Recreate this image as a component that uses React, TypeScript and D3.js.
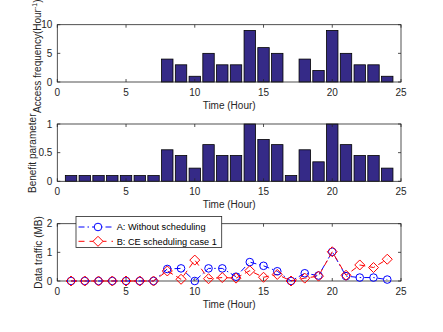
import * as d3 from 'd3'

const hours = d3.range(1, 25)
const accessFreq = [0, 0, 0, 0, 0, 0, 0, 4, 3, 1, 5, 3, 3, 9, 6, 5, 0, 4, 2, 9, 5, 3, 3, 1]
const benefit = [0.1, 0.1, 0.1, 0.1, 0.1, 0.1, 0.1, 0.55, 0.45, 0.23, 0.64, 0.45, 0.45, 1, 0.73, 0.64, 0.1, 0.55, 0.34, 1, 0.64, 0.45, 0.45, 0.23]
const trafficA = [0, 0, 0, 0, 0, 0, 0, 0.42, 0.44, 0, 0.44, 0.44, 0.15, 0.66, 0.53, 0.34, 0, 0.27, 0.19, 1.02, 0.17, 0.12, 0.12, 0.05]
const trafficB = [0, 0, 0, 0, 0, 0, 0, 0.35, 0.06, 0.73, 0.08, 0.12, 0.1, 0.36, 0.13, 0.23, 0, 0.1, 0.17, 1.02, 0.2, 0.56, 0.47, 0.76]
const xTicks = [0, 5, 10, 15, 20, 25]

const font = 'Liberation Sans, Arial, sans-serif'
const barColor = '#352a87'

const x = d3.scaleLinear().domain([0, 25]).range([57.3, 401])

function Axes({ y, yTicks, fmt }: { y: d3.ScaleLinear<number, number>; yTicks: number[]; fmt: (v: number) => string }) {
  const [y0, y1] = y.range()
  const [x0, x1] = x.range()
  const tl = 3
  return (
    <g fontFamily={font} fontSize={10} fill="#262626">
      <rect x={x0} y={y1} width={x1 - x0} height={y0 - y1} fill="none" stroke="#262626" strokeWidth={0.8} />
      {xTicks.map(t => (
        <g key={'x' + t}>
          <line x1={x(t)} x2={x(t)} y1={y0} y2={y0 - tl} stroke="#262626" strokeWidth={0.8} />
          <line x1={x(t)} x2={x(t)} y1={y1} y2={y1 + tl} stroke="#262626" strokeWidth={0.8} />
          <text x={x(t)} y={y0 + 14} textAnchor="middle">{t}</text>
        </g>
      ))}
      {yTicks.map(t => (
        <g key={'y' + t}>
          <line x1={x0} x2={x0 + tl} y1={y(t)} y2={y(t)} stroke="#262626" strokeWidth={0.8} />
          <line x1={x1} x2={x1 - tl} y1={y(t)} y2={y(t)} stroke="#262626" strokeWidth={0.8} />
          <text x={x0 - 5} y={y(t) + 3.5} textAnchor="end">{fmt(t)}</text>
        </g>
      ))}
      <text x={(x0 + x1) / 2} y={y0 + 27} textAnchor="middle">Time (Hour)</text>
    </g>
  )
}

function Bars({ y, values }: { y: d3.ScaleLinear<number, number>; values: number[] }) {
  const w = x(0.83) - x(0)
  return (
    <g>
      {values.map((v, i) => v > 0 && (
        <rect key={i} x={x(hours[i]) - w / 2} y={y(v)} width={w} height={y(0) - y(v)}
          fill={barColor} stroke="#000" strokeWidth={0.8} />
      ))}
    </g>
  )
}

function Diamond({ cx, cy, r, color, fill = 'none' }: { cx: number; cy: number; r: number; color: string; fill?: string }) {
  return <path d={`M${cx},${cy - r}L${cx + r},${cy}L${cx},${cy + r}L${cx - r},${cy}Z`} fill={fill} stroke={color} strokeWidth={1} />
}

export default function App() {
  const yTop = d3.scaleLinear().domain([0, 10]).range([82, 24.7])
  const yMid = d3.scaleLinear().domain([0, 1]).range([181.3, 124])
  const yBot = d3.scaleLinear().domain([0, 2]).range([281, 223.7])

  const line = d3.line<number>().x((_, i) => x(hours[i])).y(d => yBot(d))
  const blue = '#0000ff'
  const red = '#ff0000'

  return (
    <svg width={443} height={332} style={{ position: 'absolute', left: 0, top: 0, background: '#fff' }}>
      {/* top panel */}
      <Bars y={yTop} values={accessFreq} />
      <Axes y={yTop} yTicks={[0, 5, 10]} fmt={d => String(d)} />
      <text transform="translate(41,113) rotate(-90)" fontFamily={font} fontSize={10} fill="#262626">
        Access frequency(Hour<tspan fontSize={7} dy={-4}>-1</tspan><tspan dy={4}>)</tspan>
      </text>

      {/* middle panel */}
      <Bars y={yMid} values={benefit} />
      <Axes y={yMid} yTicks={[0, 0.5, 1]} fmt={d => String(d)} />
      <text transform="translate(35.5,193) rotate(-90)" fontFamily={font} fontSize={10} fill="#262626">Benefit parameter</text>

      {/* bottom panel */}
      <Axes y={yBot} yTicks={[0, 1, 2]} fmt={d => String(d)} />
      <text transform="translate(42,252.5) rotate(-90)" textAnchor="middle" fontFamily={font} fontSize={10} fill="#262626">Data traffic (MB)</text>
      <path d={line(trafficA) || ''} fill="none" stroke={blue} strokeWidth={1} strokeDasharray="6,3,1.5,3" />
      <path d={line(trafficB) || ''} fill="none" stroke={red} strokeWidth={1} strokeDasharray="6,4" />
      {trafficA.map((v, i) => (
        <circle key={'a' + i} cx={x(hours[i])} cy={yBot(v)} r={3.8} fill="none" stroke={blue} strokeWidth={1} />
      ))}
      {trafficB.map((v, i) => (
        <Diamond key={'b' + i} cx={x(hours[i])} cy={yBot(v)} r={5} color={red} />
      ))}

      {/* legend */}
      <g fontFamily={font} fontSize={9.2} fill="#000">
        <rect x={76} y={216.5} width={145.7} height={31} fill="#fff" stroke="#262626" strokeWidth={0.8} />
        <line x1={78.5} x2={113} y1={227} y2={227} stroke={blue} strokeWidth={1} strokeDasharray="6,3,1.5,3" />
        <circle cx={98} cy={227} r={3.8} fill="#fff" stroke={blue} strokeWidth={1} />
        <text x={116.7} y={230.3}>A: Without scheduling</text>
        <line x1={78.5} x2={113} y1={241.3} y2={241.3} stroke={red} strokeWidth={1} strokeDasharray="6,5" />
        <Diamond cx={98} cy={241.3} r={5} color={red} fill="#fff" />
        <text x={116.7} y={244.6}>B: CE scheduling case 1</text>
      </g>
    </svg>
  )
}
